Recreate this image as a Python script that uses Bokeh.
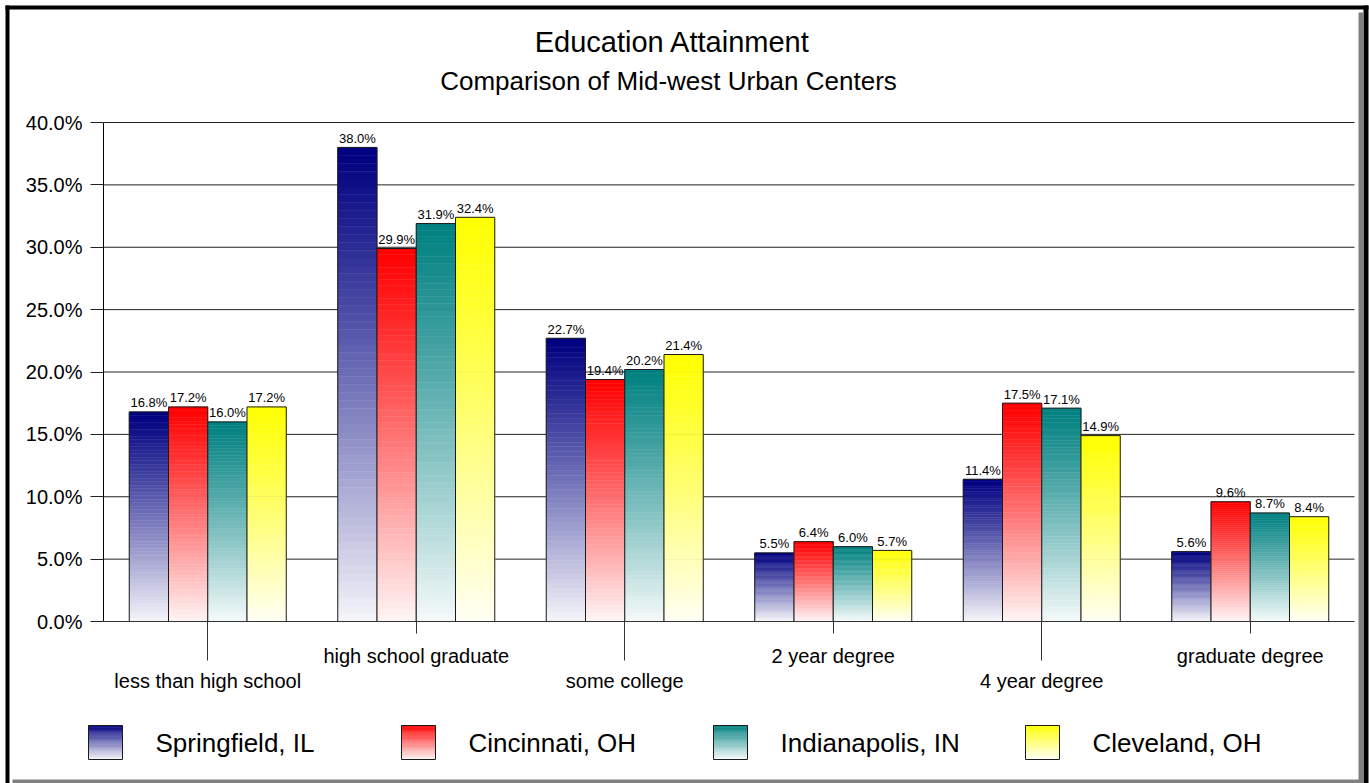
import numpy as np
from bokeh.plotting import figure
from bokeh.models import Range1d, LinearAxis, FixedTicker, NumeralTickFormatter
from bokeh.core.properties import value
from bokeh.embed import file_html
from bokeh.resources import INLINE

# ---------------- data ----------------
title = "Education Attainment"
subtitle = "Comparison of Mid-west Urban Centers"
categories = ["less than high school", "high school graduate", "some college",
              "2 year degree", "4 year degree", "graduate degree"]
series_names = ["Springfield, IL", "Cincinnati, OH", "Indianapolis, IN", "Cleveland, OH"]
springfield = [0.168, 0.380, 0.227, 0.055, 0.114, 0.056]
cincinnati = [0.172, 0.299, 0.194, 0.064, 0.175, 0.096]
indianapolis = [0.160, 0.319, 0.202, 0.060, 0.171, 0.087]
cleveland = [0.172, 0.324, 0.214, 0.057, 0.149, 0.084]
series_values = [springfield, cincinnati, indianapolis, cleveland]
series_colors = ["#000080", "#FF0000", "#008080", "#FFFF00"]
y_ticks = [0.0, 0.05, 0.10, 0.15, 0.20, 0.25, 0.30, 0.35, 0.40]

# ---------------- layout (pixels) ----------------
W, H = 1369, 783
AX_L, AX_R = 103, 1354
Y0_PX, YTOP_PX = 621, 122
PPC = (AX_R - AX_L) / len(categories)
PPU = (Y0_PX - YTOP_PX) / 0.40
FONT = "Liberation Sans"


def px_x(px):
    return -0.5 + (px - AX_L) / PPC


def px_y(py):
    return (Y0_PX - py) / PPU


def lerp_color(c, t):
    c = c.lstrip("#")
    r, g, b = int(c[0:2], 16), int(c[2:4], 16), int(c[4:6], 16)
    r = round(r + (255 - r) * t)
    g = round(g + (255 - g) * t)
    b = round(b + (255 - b) * t)
    return "#%02x%02x%02x" % (r, g, b)


p = figure(width=W, height=H,
           x_range=Range1d(px_x(0), px_x(W)),
           y_range=Range1d(px_y(H), px_y(0)),
           x_axis_location=None, y_axis_location=None,
           output_backend="svg", toolbar_location=None,
           min_border=0)
p.xgrid.visible = False
p.ygrid.visible = False
p.background_fill_color = "white"
p.border_fill_color = "white"
p.outline_line_color = None

# horizontal gridlines
p.segment(x0=[-0.5] * (len(y_ticks) - 1), x1=[len(categories) - 0.5] * (len(y_ticks) - 1),
          y0=y_ticks[1:], y1=y_ticks[1:], line_color="#222222", line_width=1)

# bars with vertical gradient
bar_w = 39.25 / PPC
N = 60
xs = np.arange(len(categories))
for j, (vals, col) in enumerate(zip(series_values, series_colors)):
    centers = xs + (j - 1.5) * bar_w
    L, R, T, B, C = [], [], [], [], []
    for cx, v in zip(centers, vals):
        for k in range(N):
            L.append(cx - bar_w / 2)
            R.append(cx + bar_w / 2)
            T.append(v * (1 - k / N))
            B.append(v * (1 - (k + 1) / N))
            C.append(lerp_color(col, 0.96 * ((k + 0.5) / N) ** 1.1))
    p.quad(left=L, right=R, top=T, bottom=B, fill_color=C, line_color=C, line_width=0.5)
    p.quad(left=centers - bar_w / 2, right=centers + bar_w / 2, top=vals, bottom=0,
           fill_color=None, line_color="#1a1a1a", line_width=1)
    p.text(x=centers, y=vals, text=["%.1f%%" % (v * 100) for v in vals],
           text_font=value(FONT), text_font_size="13px", text_color="black",
           text_align="center", text_baseline="middle", y_offset=-9)

# y axis
yaxis = LinearAxis(fixed_location=-0.5, bounds=(0, 0.40),
                   ticker=FixedTicker(ticks=y_ticks, minor_ticks=[]),
                   formatter=NumeralTickFormatter(format="0.0%"),
                   major_tick_out=13, major_tick_in=0,
                   minor_tick_out=0, minor_tick_in=0,
                   major_label_standoff=8,
                   major_label_text_font=FONT, major_label_text_font_size="20px",
                   major_label_text_color="black",
                   axis_line_color="black", major_tick_line_color="#222222")
p.add_layout(yaxis, "left")

# x axes (staggered labels)
even = [i for i in range(len(categories)) if i % 2 == 0]
odd = [i for i in range(len(categories)) if i % 2 == 1]
xaxis_a = LinearAxis(fixed_location=0, bounds=(-0.5, len(categories) - 0.5),
                     ticker=FixedTicker(ticks=even, minor_ticks=[]),
                     major_label_overrides={i: categories[i] for i in even},
                     major_tick_out=39, major_tick_in=0,
                     minor_tick_out=0, minor_tick_in=0,
                     major_label_standoff=9,
                     major_label_text_font=FONT, major_label_text_font_size="20px",
                     major_label_text_color="black",
                     axis_line_color="#333333", major_tick_line_color="#333333")
xaxis_b = LinearAxis(fixed_location=0, bounds=(-0.5, len(categories) - 0.5),
                     ticker=FixedTicker(ticks=odd, minor_ticks=[]),
                     major_label_overrides={i: categories[i] for i in odd},
                     major_tick_out=12, major_tick_in=0,
                     minor_tick_out=0, minor_tick_in=0,
                     major_label_standoff=11,
                     major_label_text_font=FONT, major_label_text_font_size="20px",
                     major_label_text_color="black",
                     axis_line_color=None, major_tick_line_color="#333333")
p.add_layout(xaxis_a, "below")
p.add_layout(xaxis_b, "below")

# titles
p.text(x=[px_x(672)], y=[px_y(41)], text=[title], text_font=value(FONT),
       text_font_size="29px", text_color="black", text_align="center",
       text_baseline="middle")
p.text(x=[px_x(668)], y=[px_y(80)], text=[subtitle], text_font=value(FONT),
       text_font_size="26px", text_color="black", text_align="center",
       text_baseline="middle")

# legend with gradient swatches
box_left = [88, 401, 713, 1025]
box_w, box_top, box_bot = 34, 725, 759
NL = 30
for name, col, bl in zip(series_names, series_colors, box_left):
    L, R, T, B, C = [], [], [], [], []
    for k in range(NL):
        L.append(px_x(bl))
        R.append(px_x(bl + box_w))
        T.append(px_y(box_top + (box_bot - box_top) * k / NL))
        B.append(px_y(box_top + (box_bot - box_top) * (k + 1) / NL))
        C.append(lerp_color(col, 0.96 * (k + 0.5) / NL))
    p.quad(left=L, right=R, top=T, bottom=B, fill_color=C, line_color=C, line_width=0.5)
    p.quad(left=[px_x(bl)], right=[px_x(bl + box_w)], top=[px_y(box_top)],
           bottom=[px_y(box_bot)], fill_color=None, line_color="#1a1a1a", line_width=1)
    p.text(x=[px_x(bl + 67)], y=[px_y(742)], text=[name], text_font=value(FONT),
           text_font_size="26px", text_color="black", text_align="left",
           text_baseline="middle")

# frame (black border with gray shadow)
p.quad(left=[px_x(5), px_x(5), px_x(1363)], right=[px_x(9), px_x(1368), px_x(1368)],
       top=[px_y(5), px_y(5), px_y(5)], bottom=[px_y(783), px_y(9), px_y(783)],
       fill_color="black", line_color=None)
p.quad(left=[px_x(1358), px_x(12)], right=[px_x(1363), px_x(1363)],
       top=[px_y(12), px_y(779)], bottom=[px_y(783), px_y(783)],
       fill_color="#808080", line_color=None)

open("out.html", "w").write(file_html(p, INLINE))
